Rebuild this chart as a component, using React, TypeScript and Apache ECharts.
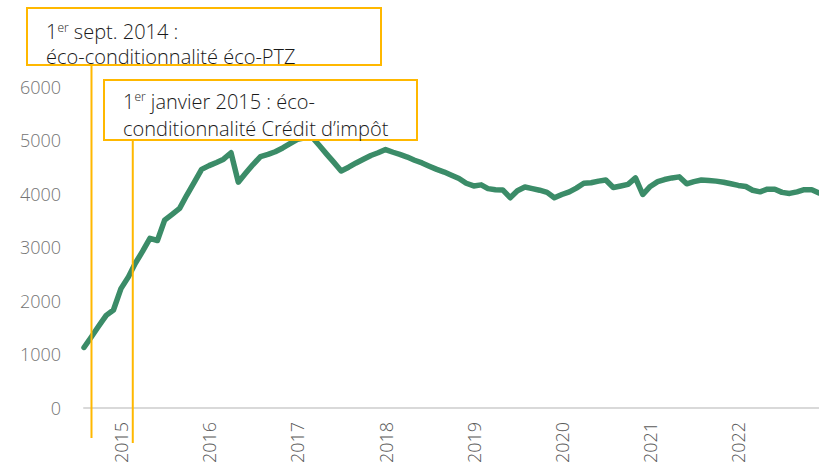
import React, { useEffect, useRef } from "react";
import * as echarts from "echarts";

// Monthly series, first month = August 2014
const START_YEAR = 2014;
const START_MONTH = 8; // August
const VALUES = [
  1130, 1330, 1530, 1730, 1830, 2230, 2450, 2700, 2930, 3170,
  3130, 3510, 3620, 3730, 3980, 4220, 4460, 4530, 4590, 4650,
  4770, 4220, 4390, 4550, 4700, 4740, 4790, 4860, 4940, 5020,
  5050, 5070, 4910, 4750, 4590, 4430, 4500, 4580, 4650, 4720,
  4770, 4830, 4780, 4740, 4690, 4630, 4580, 4520, 4460, 4410,
  4350, 4290, 4200, 4150, 4170, 4100, 4080, 4075, 3930, 4060,
  4130, 4100, 4070, 4030, 3930, 3990, 4040, 4110, 4200, 4210,
  4240, 4260, 4120, 4150, 4180, 4300, 3990, 4140, 4230, 4270,
  4300, 4320, 4190, 4230, 4260, 4250, 4240, 4220, 4190, 4160,
  4140, 4070, 4040, 4090, 4090, 4030, 4010, 4040, 4080, 4080,
  4020,
];
const Y_TICKS = [0, 1000, 2000, 3000, 4000, 5000, 6000];
const TITLE = "Évolution du nombre d'établissements";
const ANNOTATIONS = [
  { label: "1{sup|er} sept. 2014 :\néco-conditionnalité éco-PTZ", date: [2014, 9, 1] },
  // the original drawing places this marker slightly after the January tick
  { label: "1{sup|er} janvier 2015 : éco-\nconditionnalité Crédit d’impôt", date: [2015, 2, 19] },
];

const GREEN = "#3b8c68";
const ORANGE = "#ffb800";
const FONT = "Open Sans";

export default function App() {
  const ref = useRef<HTMLDivElement>(null);
  useEffect(() => {
    if (!ref.current) return;
    const chart = echarts.init(ref.current, null, { renderer: "svg" });
    const data = VALUES.map((v, i) => {
      const d = new Date(START_YEAR, START_MONTH - 1 + i, 1).getTime();
      return [d, v];
    });
    const minX = data[0][0];
    const maxX = data[data.length - 1][0];
    chart.setOption({
      animation: false,
      grid: { left: 84, top: 87, height: 323, width: 738 },
      xAxis: {
        type: "time",
        min: minX,
        max: maxX,
        minInterval: 365 * 24 * 3600 * 1000,
        maxInterval: 366 * 24 * 3600 * 1000,
        axisLine: { show: true, lineStyle: { color: "#d9d9d9", width: 2 } },
        axisTick: { show: false },
        splitLine: { show: false },
        axisLabel: {
          rotate: 90,
          margin: 14,
          showMinLabel: false,
          showMaxLabel: false,
          fontFamily: FONT,
          fontWeight: 300,
          fontSize: 18,
          color: "#595959",
          formatter: (v: number) => String(new Date(v).getFullYear()),
        },
      },
      yAxis: {
        type: "value",
        min: Y_TICKS[0],
        max: Y_TICKS[Y_TICKS.length - 1],
        interval: 1000,
        axisLine: { show: false },
        axisTick: { show: false },
        splitLine: { show: false },
        axisLabel: {
          margin: 23,
          fontFamily: FONT,
          fontWeight: 300,
          fontSize: 18,
          color: "#737373",
          formatter: (v: number) => String(v),
        },
      },
      series: [
        {
          type: "line",
          data,
          showSymbol: false,
          symbol: "none",
          lineStyle: { color: GREEN, width: 5.5, cap: "round", join: "round" },
        },
      ],
    });

    const toPx = (d: number[]) =>
      chart.convertToPixel({ xAxisIndex: 0 }, new Date(d[0], d[1] - 1, d[2]).getTime()) as number;
    const x1 = toPx(ANNOTATIONS[0].date);
    const x2 = toPx(ANNOTATIONS[1].date);
    const textStyle = (x: number, y: number, text: string, lh: number) => ({
      x,
      y,
      text,
      fontFamily: FONT,
      fontWeight: 300,
      fontSize: 20,
      fill: "#1a1a1a",
      lineHeight: lh,
      verticalAlign: "top",
      rich: {
        sup: {
          fontSize: 12,
          fontWeight: 300,
          fontFamily: FONT,
          fill: "#1a1a1a",
          verticalAlign: "middle",
          padding: [0, 0, 9, 0],
        },
      },
    });
    chart.setOption({
      graphic: [
        {
          type: "text",
          z: 100,
          style: {
            x: 10,
            y: -7,
            text: TITLE,
            fontFamily: FONT,
            fontWeight: 300,
            fontSize: 18,
            fill: "#8c8c8c",
            verticalAlign: "middle",
          },
        },
        {
          type: "line",
          z: 100,
          shape: { x1: x1, y1: 66, x2: x1, y2: 438 },
          style: { stroke: ORANGE, lineWidth: 2 },
        },
        {
          type: "line",
          z: 100,
          shape: { x1: x2, y1: 140, x2: x2, y2: 443 },
          style: { stroke: ORANGE, lineWidth: 2 },
        },
        {
          type: "rect",
          z: 100,
          shape: { x: 27, y: 8, width: 354, height: 57 },
          style: { fill: "#ffffff", stroke: ORANGE, lineWidth: 2 },
        },
        { type: "text", z: 101, style: textStyle(46, 19, ANNOTATIONS[0].label, 25) },
        {
          type: "rect",
          z: 100,
          shape: { x: 104, y: 80, width: 313, height: 60 },
          style: { fill: "#ffffff", stroke: ORANGE, lineWidth: 2 },
        },
        { type: "text", z: 101, style: textStyle(123, 87.5, ANNOTATIONS[1].label, 27) },
      ],
    });
    return () => chart.dispose();
  }, []);
  return (
    <div
      ref={ref}
      style={{ position: "absolute", left: 0, top: 0, width: 819, height: 466 }}
    />
  );
}
